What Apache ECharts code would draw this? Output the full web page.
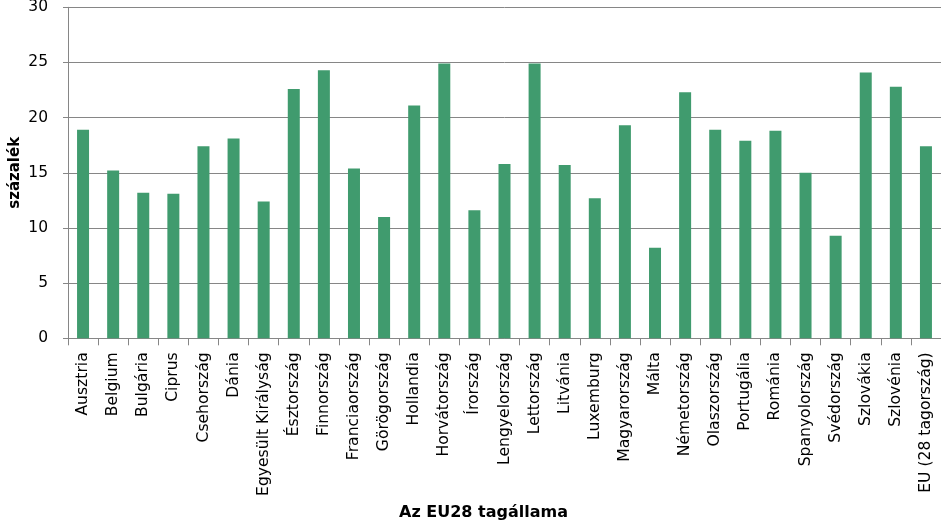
<!DOCTYPE html>
<html><head><meta charset="utf-8">
<script src="https://cdn.jsdelivr.net/npm/echarts@6/dist/echarts.min.js"></script>
<style>html,body{margin:0;padding:0;background:#fff}#c{width:941px;height:524px}</style>
</head><body><div id="c"></div>
<script>
const categories = ["Ausztria","Belgium","Bulgária","Ciprus","Csehország","Dánia","Egyesült Királyság","Észtország","Finnország","Franciaország","Görögország","Hollandia","Horvátország","Írország","Lengyelország","Lettország","Litvánia","Luxemburg","Magyarország","Málta","Németország","Olaszország","Portugália","Románia","Spanyolország","Svédország","Szlovákia","Szlovénia","EU (28 tagország)"];
const values = [18.9,15.2,13.2,13.1,17.4,18.1,12.4,22.6,24.3,15.4,11.0,21.1,24.9,11.6,15.8,24.9,15.7,12.7,19.3,8.2,22.3,18.9,17.9,18.8,15.0,9.3,24.1,22.8,17.4];
const yTicks = {min:0, max:30, interval:5};
const chart = echarts.init(document.getElementById('c'), null, {renderer:'canvas'});
const font = '"DejaVu Sans", sans-serif';
chart.setOption({
  animation:false,
  grid:{left:68, right:0, top:7.3, bottom:185.7, containLabel:false, outerBoundsMode:'none'},
  xAxis:{
    type:'category', data:categories,
    name:'Az EU28 tagállama', nameLocation:'middle', nameGap:167, nameMoveOverlap:false,
    nameTextStyle:{fontFamily:font, fontWeight:'bold', fontSize:16, color:'#000', padding:[0,42,0,0]},
    axisLine:{lineStyle:{color:'#868686', width:1}},
    axisTick:{show:true, length:7, alignWithLabel:false, lineStyle:{color:'#868686'}},
    axisLabel:{rotate:90, interval:0, margin:14, fontFamily:font, fontSize:15.6, color:'#000'}
  },
  yAxis:{
    type:'value', min:yTicks.min, max:yTicks.max, interval:yTicks.interval,
    name:'százalék', nameLocation:'middle', nameGap:45, nameRotate:90, nameMoveOverlap:false,
    nameTextStyle:{fontFamily:font, fontWeight:'bold', fontSize:15, color:'#000'},
    axisLine:{show:true, lineStyle:{color:'#868686', width:1}},
    axisTick:{show:true, length:5, lineStyle:{color:'#868686'}},
    axisLabel:{margin:20, fontFamily:font, fontSize:15.5, color:'#000'},
    splitLine:{show:true, lineStyle:{color:'#868686', width:1}}
  },
  series:[{type:'bar', data:values, barWidth:12, itemStyle:{color:'#409B6E'}}]
});
</script></body></html>
